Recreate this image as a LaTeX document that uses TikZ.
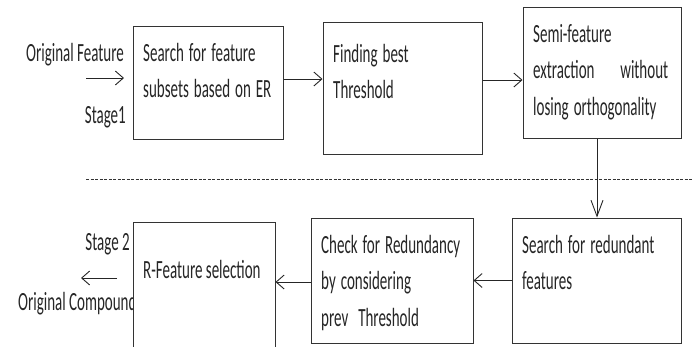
\documentclass[tikz,border=0pt]{standalone}
\usepackage{fontspec}
\setmainfont{Carlito}
\usetikzlibrary{arrows.meta}

\begin{document}
\begin{tikzpicture}[x=1pt,y=-1pt,
  box/.style={draw=black!80, line width=1pt, fill=white, inner sep=0pt},
  txt/.style={font=\fontsize{15}{21}\selectfont, text=black!85, yscale=1.75, inner sep=0pt, align=left},
  harr/.style={draw=black!85, line width=0.9pt, -{Straight Barb[length=8pt,width=14pt]}},
  varr/.style={draw=black!85, line width=0.9pt, -{Straight Barb[length=16pt,width=12pt]}}]
  \clip (0,0) rectangle (697,346);
  % outer labels
  \node[txt, anchor=base east] (inlbl) at (124,61) {Original Feature};
  \node[txt, anchor=base east] (stg1) at (126,123) {Stage1};
  \node[txt, anchor=base east] (stg2) at (130,250) {Stage 2};
  \node[txt, anchor=base west] (outlbl) at (18,310) {Original Compound};
  % stage 1 boxes
  \node[box, minimum width=150pt, minimum height=113pt] (b1) at (208,82.5) {};
  \node[box, minimum width=159pt, minimum height=132pt] (b2) at (402.5,88) {};
  \node[box, minimum width=158pt, minimum height=131pt] (b3) at (602,72.5) {};
  % stage 2 boxes
  \node[box, minimum width=169pt, minimum height=125pt] (b4) at (596.5,280.5) {};
  \node[box, minimum width=162pt, minimum height=125pt] (b5) at (392,280.5) {};
  \node[box, minimum width=142pt, minimum height=148pt] (b6) at (204,296) {};
  % box texts
  \node[txt, anchor=base west, text width=130pt] (t1) at (143,61) {Search for feature\\subsets based on ER};
  \node[txt, anchor=base west, text width=140pt] (t2) at (333,62) {Finding best\\Threshold};
  \node[txt, anchor=base west, text width=135pt] (t3) at (533,42)
    {Semi-feature\\extraction\hskip0pt plus1filll without\\losing orthogonality};
  \node[txt, anchor=base west, text width=150pt] (t4) at (522,253) {Search for redundant\\features};
  \node[txt, anchor=base west, text width=150pt] (t5) at (321,253) {Check for Redundancy\\by considering\\prev\ \ Threshold};
  \node[txt, anchor=base west] (t6) at (143,278) {R-Feature selection};
  % stage split
  \draw[black!80, line width=0.8pt, dash pattern=on 3pt off 1.5pt] (86,179) -- (693,179);
  % connectors
  \coordinate (inA) at (86,78);
  \coordinate (inB) at (124,78);
  \coordinate (outA) at (117,278);
  \coordinate (outB) at (81,278);
  \draw[harr] (inA) -- (inB);
  \draw[harr] ([yshift=3.5pt]b1.east) -- ([yshift=3.5pt]b1.east -| b2.west);
  \draw[harr] ([yshift=8pt]b2.east) -- ([yshift=8pt]b2.east -| b3.west);
  \draw[varr] ([xshift=-5pt]b3.south) -- ([xshift=-5pt]b3.south |- b4.north);
  \draw[harr] (b4.west) -- (b4.west -| b5.east);
  \draw[harr] ([yshift=-1.5pt]b5.west) -- ([yshift=-1.5pt]b5.west -| b6.east);
  \draw[harr] (outA) -- (outB);
\end{tikzpicture}
\end{document}
